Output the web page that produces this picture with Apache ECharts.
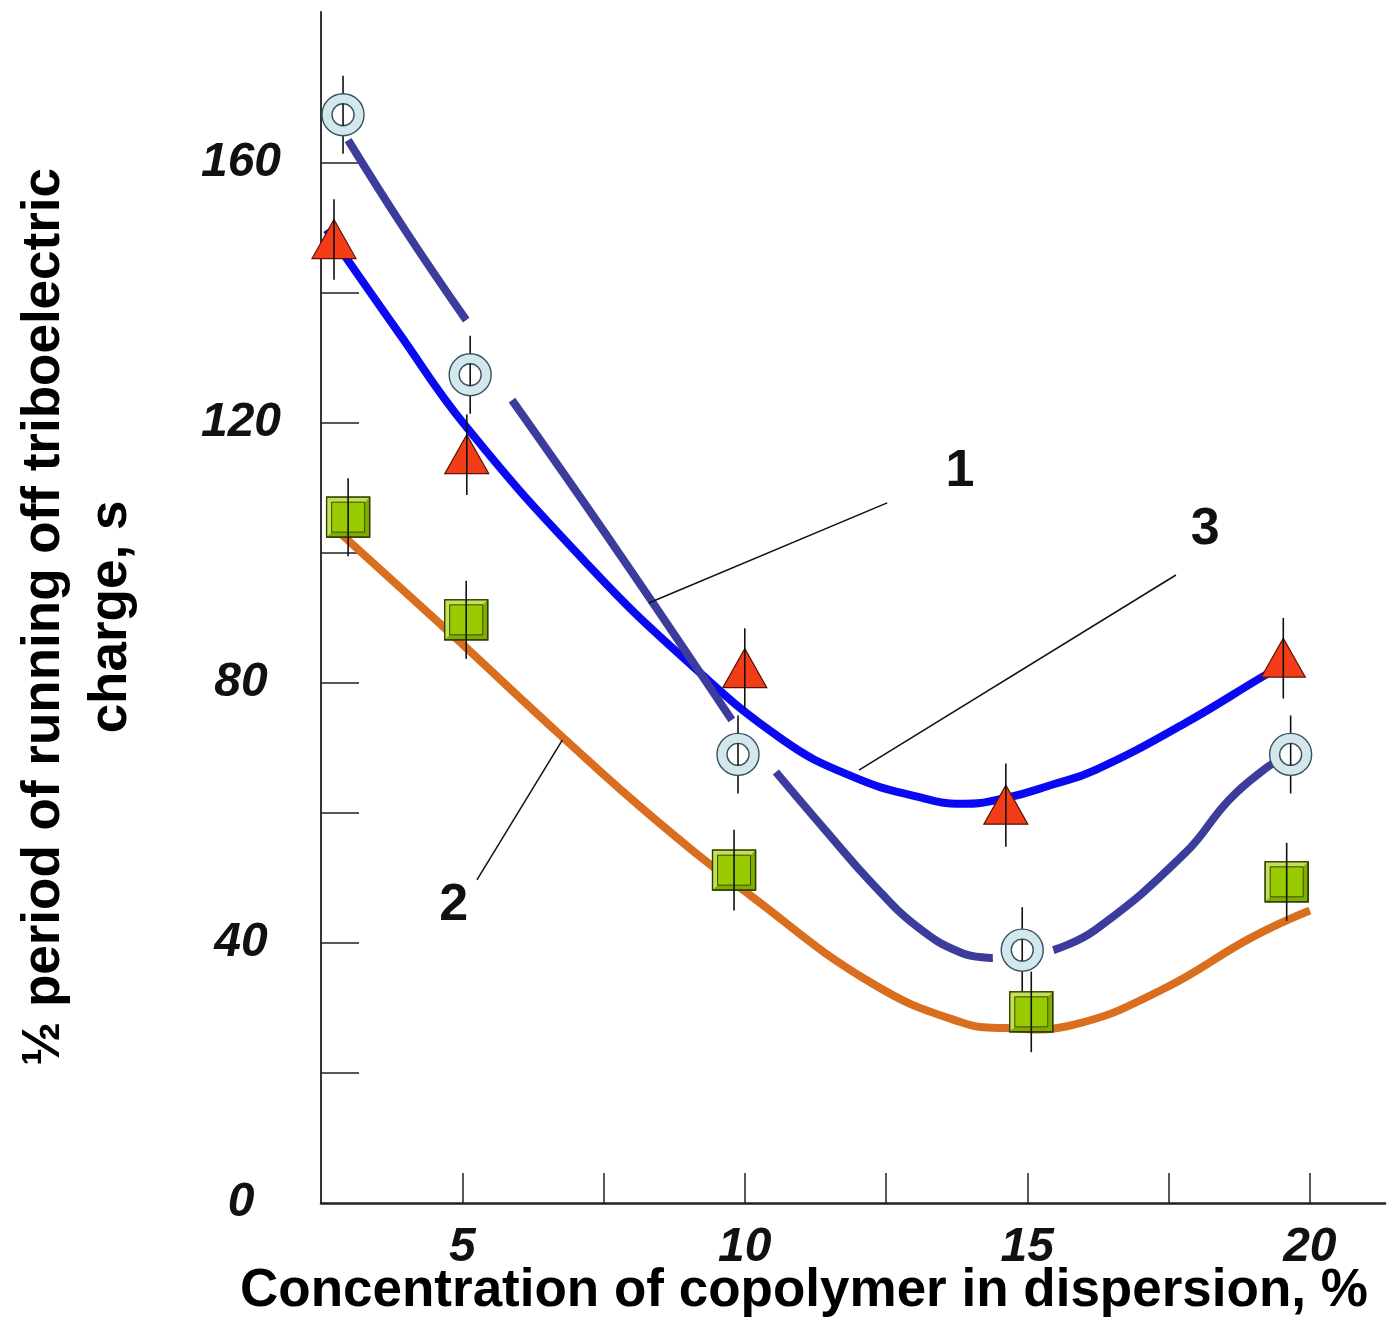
<!DOCTYPE html>
<html>
<head>
<meta charset="utf-8">
<script src="https://cdn.jsdelivr.net/npm/echarts@6/dist/echarts.min.js"></script>
<style>
html,body{margin:0;padding:0;background:#fff;}
#chart{width:1387px;height:1327px;}
</style>
</head>
<body>
<div id="chart"></div>
<script>
// ---------- data ----------
// Measured points: x = concentration (%), y = half period (s), err = error bar half-length
const triX = [2.73, 5.08, 10.0, 14.62, 19.53];
const triY = [148.2, 115.1, 82.2, 61.2, 83.8];
const triErr = [6.2, 6.2, 6.2, 6.4, 6.2];

const cirX = [2.89, 5.14, 9.88, 14.91, 19.66];
const cirY = [167.4, 127.4, 69.0, 38.9, 69.0];
const cirErr = [6.0, 6.0, 6.0, 6.6, 6.0];

const sqX = [2.98, 5.07, 9.81, 15.07, 19.59];
const sqY = [105.5, 89.7, 51.2, 29.4, 49.4];
const sqErr = [6.0, 6.0, 6.2, 6.2, 6.0];

// Fitted curves; null marks a break in curve 1
const curve1X = [2.98, 4.0, 5.07, 5.45, 5.88, 7.77, 9.77, 10.15, 10.55, 11.47, 12.25, 13.05, 13.83, 14.39, 14.9, 15.46, 16.2, 17.79, 18.57, 19.24, 19.55];
const curve1Y = [163.5, 149.5, 135.8, null, 123.5, 100.0, 74.3, null, 66.3, 56.9, 49.2, 42.5, 38.5, 37.7, null, 38.9, 42.0, 53.8, 62.0, 67.0, 68.6];

const curve2X = [2.78, 4.82, 6.77, 8.36, 10.13, 12.25, 13.83, 14.62, 15.81, 17.38, 18.98, 20.0];
const curve2Y = [103.5, 87.4, 71.7, 59.4, 47.1, 33.8, 27.8, 26.9, 27.4, 32.8, 40.9, 45.0];

const curve3X = [2.6, 3.88, 5.07, 7.19, 8.96, 10.68, 11.93, 13.05, 13.83, 14.62, 15.42, 16.2, 17.79, 19.21, 19.55];
const curve3Y = [149.7, 133.8, 119.4, 98.5, 83.5, 71.2, 65.5, 62.5, 61.4, 62.3, 64.3, 66.6, 73.8, 81.2, 82.8];

// Curve labels and their leader lines (data coordinates)
const curveNames = ['1', '2', '3'];
const labelX = [13.81, 4.85, 18.15];
const labelY = [112.5, 45.8, 103.5];
const leaderX1 = [12.52, 5.26, 17.63];
const leaderY1 = [107.7, 49.7, 96.6];
const leaderX2 = [8.3, 6.77, 12.02];
const leaderY2 = [92.3, 71.2, 66.6];

// Axis ticks / labels
const xTickValues = [5, 7.5, 10, 12.5, 15, 17.5, 20];
const xLabelValues = [5, 10, 15, 20];
const yTickValues = [20, 40, 60, 80, 100, 120, 140, 160];
const yLabelValues = [0, 40, 80, 120, 160];

const xTitle = 'Concentration of copolymer in dispersion, %';
const yTitle = '\u00BD period of running off triboelectric\ncharge, s';

// ---------- build ----------
const zip = (xs, ys) => xs.map((x, i) => [x, ys[i] === null ? NaN : ys[i]]);
const zip3 = (xs, ys, es) => xs.map((x, i) => [x, ys[i], es[i]]);

// Smooth curve drawn through the chart's own coordinate system (one polyline per unbroken run)
function curveRenderer(color) {
  return function (params, api) {
    if (params.dataIndexInside !== 0) return null;
    const n = params.dataInsideLength;
    const runs = [];
    let cur = [];
    for (let i = 0; i < n; i++) {
      const x = api.value(0, i), y = api.value(1, i);
      if (isNaN(y)) { if (cur.length) runs.push(cur); cur = []; continue; }
      cur.push(api.coord([x, y]));
    }
    if (cur.length) runs.push(cur);
    return {type: 'group', children: runs.map(pts => ({
      type: 'polyline', shape: {points: pts, smooth: 0.45},
      style: {stroke: color, lineWidth: 8, fill: null, lineCap: 'butt', lineJoin: 'round'}
    }))};
  };
}

function errLine(api) {
  const x = api.value(0), y = api.value(1), e = api.value(2);
  const t = api.coord([x, y + e]), b = api.coord([x, y - e]);
  return {type: 'line', shape: {x1: t[0], y1: t[1], x2: b[0], y2: b[1]},
          style: {stroke: '#111', lineWidth: 1.6}};
}

function renderTri(params, api) {
  const c = api.coord([api.value(0), api.value(1)]);
  return {type: 'group', children: [
    {type: 'polygon', shape: {points: [[c[0], c[1] - 20], [c[0] + 22, c[1] + 19], [c[0] - 22, c[1] + 19]]},
     style: {fill: '#f33c18', stroke: '#5a1406', lineWidth: 1.2}},
    errLine(api)
  ]};
}

function renderCir(params, api) {
  const c = api.coord([api.value(0), api.value(1)]);
  const x = api.value(0), y = api.value(1), e = api.value(2);
  const t = api.coord([x, y + e]), b = api.coord([x, y - e]);
  return {type: 'group', children: [
    {type: 'line', shape: {x1: c[0], y1: t[1], x2: c[0], y2: c[1] - 20}, style: {stroke: '#111', lineWidth: 1.6}},
    {type: 'line', shape: {x1: c[0], y1: c[1] + 20, x2: c[0], y2: b[1]}, style: {stroke: '#111', lineWidth: 1.6}},
    {type: 'circle', shape: {cx: c[0], cy: c[1], r: 21}, style: {fill: '#d3e7ec', stroke: '#35525f', lineWidth: 1.4}},
    {type: 'circle', shape: {cx: c[0], cy: c[1], r: 11}, style: {fill: '#ffffff', stroke: '#35525f', lineWidth: 1.4}},
    {type: 'line', shape: {x1: c[0], y1: c[1] - 11, x2: c[0], y2: c[1] + 11}, style: {stroke: '#111', lineWidth: 1.6}}
  ]};
}

function renderSq(params, api) {
  const c = api.coord([api.value(0), api.value(1)]);
  const w = 43, h = 40, k = 5;
  const x0 = c[0] - w / 2, y0 = c[1] - h / 2;
  return {type: 'group', children: [
    {type: 'rect', shape: {x: x0, y: y0, width: w, height: h}, style: {fill: '#7fae00', stroke: '#2f3a00', lineWidth: 1.3}},
    {type: 'polygon', shape: {points: [[x0, y0], [x0 + w, y0], [x0 + w - k, y0 + k], [x0 + k, y0 + k], [x0 + k, y0 + h - k], [x0, y0 + h]]},
     style: {fill: '#c4e05a'}},
    {type: 'rect', shape: {x: x0 + k, y: y0 + k, width: w - 2 * k, height: h - 2 * k}, style: {fill: '#99cc00', stroke: '#3e4d00', lineWidth: 1}},
    {type: 'rect', shape: {x: x0, y: y0, width: w, height: h}, style: {fill: 'none', stroke: '#2f3a00', lineWidth: 1.3}},
    errLine(api)
  ]};
}

const annData = curveNames.map((n, i) => [leaderX1[i], leaderY1[i], leaderX2[i], leaderY2[i], labelX[i], labelY[i], n]);

function renderAnn(params, api) {
  const p1 = api.coord([api.value(0), api.value(1)]);
  const p2 = api.coord([api.value(2), api.value(3)]);
  const pl = api.coord([api.value(4), api.value(5)]);
  return {type: 'group', children: [
    {type: 'line', shape: {x1: p1[0], y1: p1[1], x2: p2[0], y2: p2[1]}, style: {stroke: '#111', lineWidth: 1.5}},
    {type: 'text', x: pl[0], y: pl[1], style: {text: String(api.value(6)), font: 'bold 52px "Liberation Sans", Arial, sans-serif',
      fill: '#111', align: 'center', verticalAlign: 'middle'}}
  ]};
}

const chart = echarts.init(document.getElementById('chart'), null, {renderer: 'canvas'});

const tickLabelFont = {fontFamily: '"Liberation Sans", Arial, sans-serif', fontWeight: 'bold', fontStyle: 'italic', fontSize: 48, color: '#111'};

chart.setOption({
  backgroundColor: '#ffffff',
  animation: false,
  grid: {left: 321, right: 2, top: 12, bottom: 124, containLabel: false},
  xAxis: {
    type: 'value', min: 2.5, max: 21.33, interval: 2.5,
    axisLine: {show: true, lineStyle: {color: '#222', width: 2.5}},
    axisTick: {show: true, inside: true, length: 30, customValues: xTickValues, lineStyle: {color: '#222', width: 1.5}},
    axisLabel: Object.assign({show: true, margin: 21, customValues: xLabelValues, formatter: v => String(v)}, tickLabelFont),
    splitLine: {show: false}
  },
  yAxis: {
    type: 'value', min: 0, max: 183.2, interval: 20,
    axisLine: {show: true, lineStyle: {color: '#333', width: 2}},
    axisTick: {show: true, inside: true, length: 38, customValues: yTickValues, lineStyle: {color: '#222', width: 1.5}},
    axisLabel: Object.assign({show: true, margin: 80, align: 'center', customValues: yLabelValues, formatter: v => String(v)}, tickLabelFont),
    splitLine: {show: false}
  },
  graphic: [
    {type: 'text', left: 240, top: 1265, style: {text: xTitle, font: 'bold 53px "Liberation Sans", Arial, sans-serif', fill: '#000'}},
    {type: 'text', x: 78, y: 617, rotation: Math.PI / 2,
     style: {text: yTitle, font: 'bold 53px "Liberation Sans", Arial, sans-serif', fill: '#000', align: 'center', verticalAlign: 'middle', lineHeight: 67}}
  ],
  series: [
    {type: 'custom', name: 'curve 3', data: zip(curve3X, curve3Y), renderItem: curveRenderer('#0a0af2'), z: 2},
    {type: 'custom', name: 'curve 1', data: zip(curve1X, curve1Y), renderItem: curveRenderer('#3c3c9c'), z: 3},
    {type: 'custom', name: 'curve 2', data: zip(curve2X, curve2Y), renderItem: curveRenderer('#d96f1e'), z: 2},
    {type: 'custom', name: 'leaders', data: annData, renderItem: renderAnn, z: 4},
    {type: 'custom', name: 'triangles', data: zip3(triX, triY, triErr), renderItem: renderTri, z: 5},
    {type: 'custom', name: 'circles', data: zip3(cirX, cirY, cirErr), renderItem: renderCir, z: 5},
    {type: 'custom', name: 'squares', data: zip3(sqX, sqY, sqErr), renderItem: renderSq, z: 5}
  ]
});
</script>
</body>
</html>
